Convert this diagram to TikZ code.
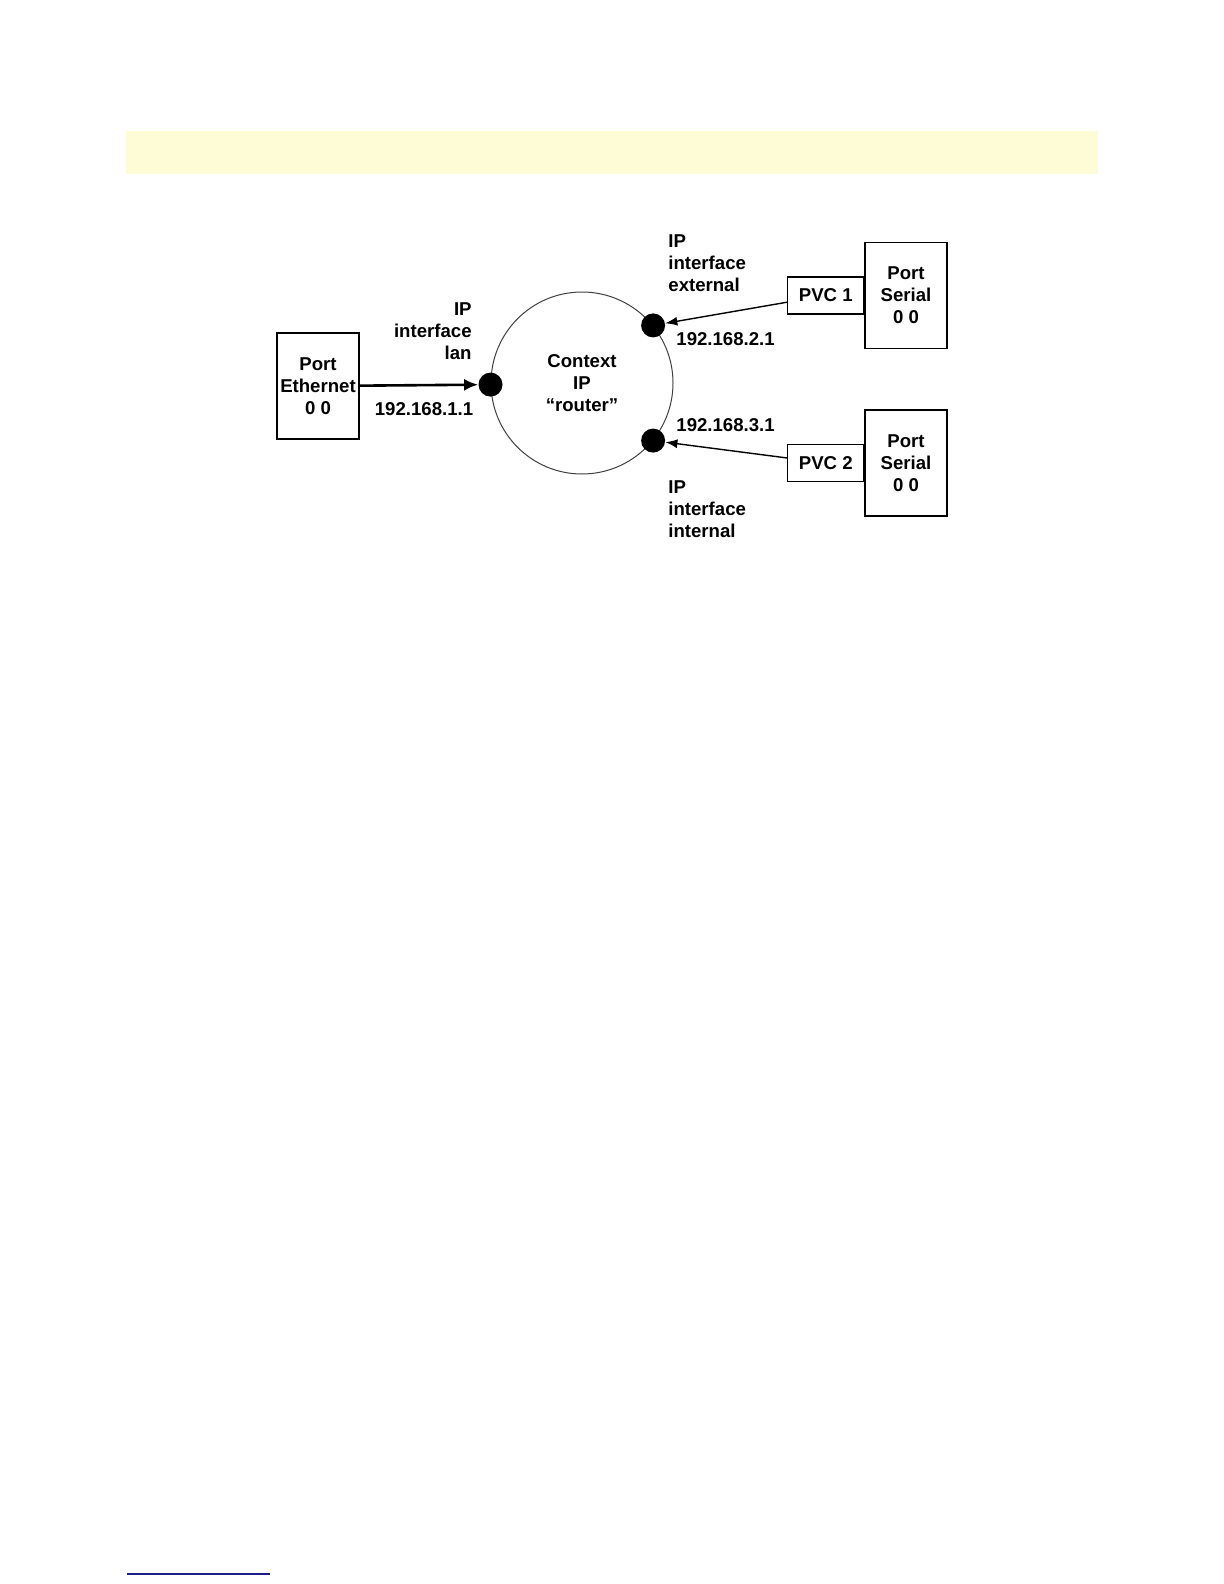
\documentclass[tikz,border=0pt]{standalone}
\usepackage{fontspec}
\setmainfont{Liberation Sans}
\usetikzlibrary{arrows.meta,positioning}
\tikzset{>={Latex[length=6pt,width=4.5pt]}}
\definecolor{bandyellow}{HTML}{FEFBD7}
\definecolor{rulenavy}{HTML}{1C1C8A}
\colorlet{ringgray}{black!75}
\tikzset{
  every node/.style={font=\bfseries\fontsize{9.3}{11}\selectfont},
  portbox/.style={draw,line width=0.6pt,minimum width=41pt,minimum height=53pt,
    align=center,inner sep=0pt},
  pvcbox/.style={draw,line width=0.6pt,minimum width=38pt,minimum height=18.5pt,
    inner sep=0pt},
  ifdot/.style={circle,fill=black,minimum size=12pt,inner sep=0pt},
  lbl/.style={align=left,inner sep=0pt},
}

\begin{document}
\begin{tikzpicture}[x=0.5pt,y=-0.5pt]
  \useasboundingbox (0,0) rectangle (1224,1584);
  % page band and footer rule
  \fill[bandyellow] (126,131) rectangle (1098,174);
  \draw[rulenavy,line width=0.8pt] (127,1574) -- (270,1574);

  % context
  \node[circle,draw=ringgray,line width=0.5pt,minimum size=91pt,align=center,inner sep=0pt]
    (ctx) at (582,383) {Context\\IP\\“router”};
  \node[ifdot] (lan) at (ctx.181.5) {};
  \node[ifdot] (ext) at (ctx.39) {};
  \node[ifdot] (int) at (ctx.-39) {};

  % ports
  \node[portbox] (eth) at (318,386) {Port\\Ethernet\\0 0};
  \node[portbox] (ser1) at (906,295.5) {Port\\Serial\\0 0};
  \node[portbox] (ser2) at (906,463) {Port\\Serial\\0 0};
  \node[pvcbox,left=0pt of ser1] (pvc1) {PVC 1};
  \node[pvcbox,left=0pt of ser2] (pvc2) {PVC 2};

  % labels
  \node[lbl,align=right,anchor=east] (lanname) at (472,331) {IP\\interface\\lan};
  \node[lbl,anchor=west] (extname) at (668,263) {IP\\interface\\external};
  \node[lbl,anchor=west] (intname) at (668,509) {IP\\interface\\internal};
  \node[lbl] (lanaddr) at (424,409) {192.168.1.1};
  \node[lbl,anchor=west] (extaddr) at (676,339) {192.168.2.1};
  \node[lbl,anchor=west] (intaddr) at (676,425) {192.168.3.1};

  % links
  \draw[-{Latex[length=7pt,width=6pt]},line width=1.3pt] (eth) -- (lan);
  \draw[->,line width=0.7pt] (pvc1) -- (ext);
  \draw[->,line width=0.7pt] (pvc2) -- (int);
\end{tikzpicture}
\end{document}
